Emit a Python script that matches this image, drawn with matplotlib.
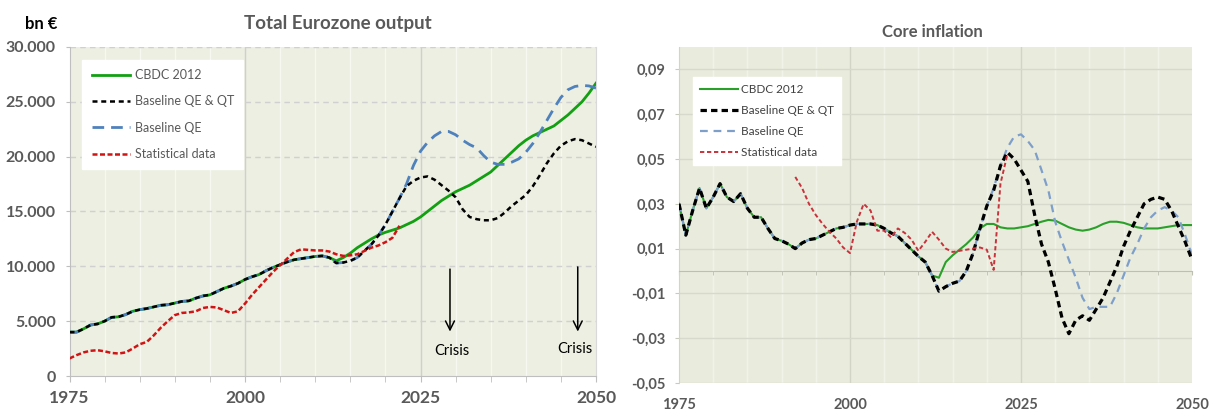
import matplotlib
matplotlib.use("Agg")
import matplotlib.pyplot as plt
import matplotlib.ticker as mticker

plt.rcParams['font.family'] = ['Lato', 'DejaVu Sans']

# ---- Total Eurozone output (bn EUR) ----
anos_comum = [1975, 1976, 1977, 1978, 1979, 1980, 1981, 1982, 1983, 1984,
              1985, 1986, 1987, 1988, 1989, 1990, 1991, 1992, 1993, 1994,
              1995, 1996, 1997, 1998, 1999, 2000, 2001, 2002, 2003, 2004,
              2005, 2006, 2007, 2008, 2009, 2010, 2011, 2012]
pib_comum = [4000, 4000, 4300, 4650, 4750, 5000, 5350, 5400, 5600, 5900,
             6050, 6150, 6300, 6450, 6500, 6650, 6800, 6850, 7100, 7300,
             7400, 7700, 8000, 8200, 8450, 8800, 9050, 9250, 9600, 9900,
             10150, 10400, 10600, 10700, 10800, 10900, 10950, 10800]

anos_proj = list(range(2013, 2051))
pib_cbdc = [10500, 10800, 11200, 11700, 12100, 12500, 12850, 13100, 13300, 13500,
            13800, 14100, 14500, 15000, 15500, 16000, 16400, 16800, 17100, 17400,
            17800, 18200, 18600, 19200, 19800, 20400, 21000, 21500, 21900, 22200,
            22500, 22800, 23300, 23800, 24400, 25000, 25800, 26700]
pib_qe = [10300, 10350, 10500, 10800, 11400, 12000, 12800, 13800, 15000, 16200,
          17500, 19200, 20500, 21300, 21900, 22300, 22300, 22000, 21500, 21100,
          20800, 20100, 19500, 19300, 19300, 19500, 19800, 20400, 21200, 22200,
          23300, 24400, 25400, 26100, 26400, 26500, 26450, 26250]
pib_qeqt = [10300, 10350, 10500, 10800, 11400, 12000, 12800, 13800, 15000, 16200,
            17300, 17800, 18100, 18200, 17900, 17400, 16900, 16300, 15200, 14500,
            14300, 14200, 14200, 14400, 14900, 15500, 16000, 16500, 17300, 18300,
            19400, 20300, 21000, 21400, 21600, 21500, 21200, 20900]

anos_dados = list(range(1975, 2023))
pib_dados = [1600, 1900, 2150, 2300, 2350, 2250, 2100, 2050, 2150, 2500,
             2900, 3100, 3700, 4400, 5000, 5550, 5750, 5800, 5900, 6200,
             6300, 6250, 6000, 5750, 5900, 6600, 7400, 8100, 8800, 9500,
             10100, 10700, 11300, 11550, 11500, 11450, 11450, 11350, 11100, 10950,
             11000, 11100, 11400, 11700, 11900, 12200, 12600, 13700]

anos_crise = [2029.2, 2047.4]

# ---- Core inflation ----
anos_inf_comum = list(range(1975, 2013))
inf_comum = [0.030, 0.016, 0.027, 0.037, 0.028, 0.033, 0.039, 0.033, 0.031, 0.0345,
             0.028, 0.024, 0.024, 0.019, 0.0145, 0.0135, 0.012, 0.010, 0.0125, 0.014,
             0.0145, 0.016, 0.0175, 0.019, 0.0195, 0.0205, 0.021, 0.021, 0.021, 0.0205,
             0.019, 0.017, 0.0155, 0.0125, 0.0095, 0.0065, 0.004, -0.002]

anos_inf_proj = list(range(2013, 2051))
inf_cbdc = [-0.003, 0.004, 0.007, 0.0095, 0.012, 0.015, 0.019, 0.021, 0.021, 0.0195,
            0.019, 0.019, 0.0195, 0.020, 0.021, 0.022, 0.0228, 0.0225, 0.021, 0.0195,
            0.0185, 0.018, 0.0185, 0.0195, 0.021, 0.022, 0.022, 0.0215, 0.0205, 0.0195,
            0.019, 0.019, 0.019, 0.0195, 0.020, 0.0205, 0.0205, 0.0205]
inf_qeqt = [-0.009, -0.007, -0.0055, -0.0045, 0.000, 0.008, 0.019, 0.029, 0.036, 0.047,
            0.053, 0.050, 0.045, 0.040, 0.025, 0.012, 0.004, -0.008, -0.021, -0.028,
            -0.022, -0.020, -0.022, -0.017, -0.012, -0.005, 0.002, 0.011, 0.018, 0.024,
            0.030, 0.032, 0.033, 0.032, 0.027, 0.020, 0.013, 0.005]
inf_qe = [-0.009, -0.007, -0.0055, -0.0045, 0.000, 0.008, 0.019, 0.029, 0.037, 0.047,
          0.055, 0.060, 0.061, 0.058, 0.054, 0.045, 0.036, 0.022, 0.013, 0.005,
          -0.003, -0.012, -0.017, -0.016, -0.016, -0.016, -0.010, -0.002, 0.006, 0.012,
          0.019, 0.024, 0.027, 0.0285, 0.027, 0.024, 0.016, 0.007]

anos_inf_dados = list(range(1992, 2024))
inf_dados = [0.042, 0.037, 0.030, 0.025, 0.021, 0.0175, 0.0145, 0.0105, 0.008, 0.022,
             0.030, 0.027, 0.018, 0.018, 0.015, 0.019, 0.017, 0.014, 0.009, 0.013,
             0.0175, 0.014, 0.010, 0.0085, 0.009, 0.0095, 0.010, 0.0105, 0.0095, 0.0005,
             0.039, 0.052]

rotulos = ["CBDC 2012", "Baseline QE & QT", "Baseline QE", "Statistical data"]
cinza = '#595959'

W, H = 1209, 412
fig = plt.figure(figsize=(W / 100, H / 100), dpi=100)

# ================= grafico da esquerda =================
ax = fig.add_axes([69.5 / W, 1 - 376 / H, (596 - 69.5) / W, (376 - 47) / H])
ax.set_facecolor('#ECEFE1')
ax.set_xlim(1975, 2050)
ax.set_ylim(0, 30000)

for a in range(1980, 2050, 5):
    cor = '#CFCFCF' if a in (2000, 2025) else '#F7F8F2'
    ax.axvline(a, color=cor, lw=1, zorder=0)
for v in range(5000, 30001, 5000):
    ax.axhline(v, color='#D0D0D0', lw=1, ls=(0, (4, 3)), zorder=0)

c_anos = anos_comum + anos_proj
g, = ax.plot(c_anos, pib_comum + pib_cbdc, color='#12A012', lw=2.0, zorder=3)
b, = ax.plot(c_anos, pib_comum + pib_qe, color='#4F81BD', lw=2.0,
             dashes=(4.2, 2.5), zorder=4)
k, = ax.plot(c_anos, pib_comum + pib_qeqt, color='black', lw=1.8,
             dashes=(2.0, 1.5), zorder=5)
r, = ax.plot(anos_dados, pib_dados, color='#D01414', lw=1.8,
             dashes=(2.0, 1.0), zorder=6)

for xc, y0 in zip(anos_crise, [10000, 10200]):
    ax.annotate('', xy=(xc, 3800), xytext=(xc, y0),
                arrowprops=dict(arrowstyle='->', color='black', lw=1.1,
                                mutation_scale=16))
ax.text(anos_crise[0] + 0.2, 2300, "Crisis", ha='center', va='center', fontsize=10.5)
ax.text(anos_crise[1] - 0.4, 2500, "Crisis", ha='center', va='center', fontsize=10.5)

ax.set_yticks(range(0, 30001, 5000))
ax.yaxis.set_major_formatter(mticker.FuncFormatter(
    lambda v, p: "0" if v == 0 else f"{int(v):,}".replace(",", ".")))
ax.set_xticks([1975, 2000, 2025, 2050])
ax.set_xticks(range(1975, 2051, 5), minor=True)
ax.tick_params(axis='y', colors='#BFBFBF', labelcolor=cinza, length=3, pad=7,
               labelsize=11.5)
ax.tick_params(axis='x', which='both', colors='#BFBFBF', labelcolor=cinza,
               length=4, pad=6, labelsize=12.5)
for t in ax.get_xticklabels() + ax.get_yticklabels():
    t.set_fontweight('bold')
ax.spines['top'].set_visible(False)
ax.spines['left'].set_color('#BFBFBF')
ax.spines['bottom'].set_color('#BFBFBF')
ax.spines['right'].set_color('#D9D9D9')

leg = ax.legend([g, k, b, r], rotulos, loc='upper left',
                bbox_to_anchor=(0.024, 0.962), borderaxespad=0,
                fontsize=9, labelcolor=cinza, frameon=True, fancybox=False,
                handlelength=3.1, handletextpad=0.35, labelspacing=1.15,
                borderpad=0.75)
leg.get_frame().set_facecolor('white')
leg.get_frame().set_edgecolor('white')
leg.get_frame().set_alpha(1)

fig.text(338 / W, 1 - 23 / H, "Total Eurozone output", ha='center', va='center',
         fontsize=13.5, fontweight='bold', color=cinza)
fig.text(41 / W, 1 - 24 / H, "bn €", ha='center', va='center',
         fontsize=12, fontweight='bold', color='black')

# ================= grafico da direita =================
ax2 = fig.add_axes([679 / W, 1 - 383 / H, (1192 - 679) / W, (383 - 47) / H])
ax2.set_facecolor('#E9ECDD')
ax2.set_xlim(1975, 2050)
ax2.set_ylim(-0.05, 0.10)

for a in range(1980, 2050, 5):
    cor = '#D2D4C6' if a in (2000, 2025) else '#F1F3EA'
    ax2.axvline(a, color=cor, lw=1, zorder=0)
for v in [-0.05, -0.03, -0.01, 0.01, 0.03, 0.05, 0.07, 0.09]:
    ax2.axhline(v, color='#D6D9CB', lw=1, zorder=0)

ci = anos_inf_comum + anos_inf_proj
g2, = ax2.plot(ci, inf_comum + inf_cbdc, color='#2AA02A', lw=1.5, zorder=3)
b2, = ax2.plot(ci, inf_comum + inf_qe, color='#7F9FCB', lw=1.6,
               dashes=(3.5, 2.6), zorder=4)
k2, = ax2.plot(ci, inf_comum + inf_qeqt, color='black', lw=2.3,
               dashes=(2.0, 1.3), zorder=5)
r2, = ax2.plot(anos_inf_dados, inf_dados, color='#C8323C', lw=1.4,
               dashes=(2.2, 1.4), zorder=6)

ax2.spines['bottom'].set_position(('data', 0))
ax2.spines['bottom'].set_color('#BDBFB3')
ax2.spines['left'].set_color('#D2D4C6')
ax2.spines['top'].set_visible(False)
ax2.spines['right'].set_visible(False)
ax2.set_yticks([-0.05, -0.03, -0.01, 0.01, 0.03, 0.05, 0.07, 0.09])
ax2.yaxis.set_major_formatter(mticker.FuncFormatter(
    lambda v, p: f"{v:.2f}".replace(".", ",")))
ax2.set_xticks([1975, 2000, 2025, 2050])
ax2.set_xticks(range(1975, 2051, 5), minor=True)
ax2.tick_params(axis='y', colors='#C8CABD', labelcolor=cinza, length=3, pad=7,
                labelsize=10.5)
ax2.tick_params(axis='x', which='both', colors='#BDBFB3', labelcolor=cinza,
                length=3, pad=88.5, labelsize=10.5)
for t in ax2.get_xticklabels() + ax2.get_yticklabels():
    t.set_fontweight('bold')

leg2 = ax2.legend([g2, k2, b2, r2], rotulos, loc='upper left',
                  bbox_to_anchor=(0.027, 0.911), borderaxespad=0,
                  fontsize=8.5, labelcolor='#404040', frameon=True, fancybox=False,
                  handlelength=3.2, handletextpad=0.3, labelspacing=0.85,
                  borderpad=0.6)
leg2.get_frame().set_facecolor('white')
leg2.get_frame().set_edgecolor('white')
leg2.get_frame().set_alpha(1)

fig.text(932 / W, 1 - 32 / H, "Core inflation", ha='center', va='center',
         fontsize=12, fontweight='bold', color=cinza)

fig.savefig("out.png", dpi=100)
